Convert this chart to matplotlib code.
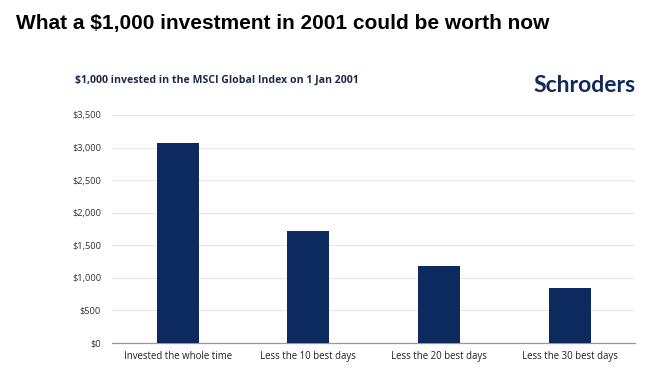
import numpy as np
import matplotlib.pyplot as plt

categories = ['Invested the whole time', 'Less the 10 best days',
              'Less the 20 best days', 'Less the 30 best days']
values = [3070, 1725, 1175, 845]
yticks = [0, 500, 1000, 1500, 2000, 2500, 3000, 3500]

navy = '#0d2a5e'

fig = plt.figure(figsize=(6.68, 3.72), dpi=100)
ax = fig.add_axes([0.168, 0.078, 0.783, 0.613])

x = np.arange(len(categories))
ax.bar(x, values, width=0.32, color=navy, zorder=3)

ax.set_xlim(-0.5, 3.5)
ax.set_ylim(0, 3500)
ax.set_yticks(yticks)
ax.set_yticklabels(['${:,}'.format(v) for v in yticks],
                   fontsize=6.7, family='Open Sans', color='#333333')
ax.set_xticks(x)
ax.set_xticklabels(categories, fontsize=6.9, family='Open Sans', color='#222222')
ax.tick_params(length=0, pad=8)
ax.tick_params(axis='x', pad=6)

ax.grid(axis='y', color='#e6e6e6', linewidth=0.8, zorder=0)
for s in ['top', 'right', 'left']:
    ax.spines[s].set_visible(False)
ax.spines['bottom'].set_color('#999999')
ax.spines['bottom'].set_linewidth(0.9)

fig.text(0.024, 0.937, 'What a $1,000 investment in 2001 could be worth now',
         fontsize=15, fontweight='bold', family='Liberation Sans',
         color='black', va='center')
fig.text(0.112, 0.785, '$1,000 invested in the MSCI Global Index on 1 Jan 2001',
         fontsize=7.6, fontweight='bold', family='Open Sans',
         color='#1c2a4a', va='center')
fig.text(0.952, 0.77, 'Schroders', fontsize=16.5, fontweight='bold',
         family='Lato', color='#102a5c', va='center', ha='right')

fig.savefig('out.png', dpi=100)
